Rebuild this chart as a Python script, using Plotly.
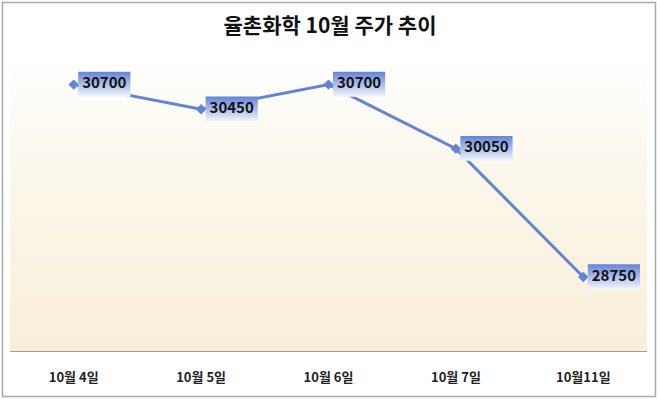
import plotly.graph_objects as go

categories = ["10월 4일", "10월 5일", "10월 6일", "10월 7일", "10월11일"]
prices = [30700, 30450, 30700, 30050, 28750]
title_text = "율촌화학 10월 주가 추이"
y_min, y_max = 28000, 31000

FONT = "Noto Sans CJK KR"
LINE_COLOR = "#6384D6"

xs = list(range(len(categories)))
fig = go.Figure()

# plot-area gradient background
fig.add_trace(go.Scatter(
    x=[-0.5, len(categories) - 0.5, len(categories) - 0.5, -0.5, -0.5],
    y=[y_min, y_min, y_max, y_max, y_min],
    mode="lines", line=dict(width=0), fill="toself",
    fillgradient=dict(type="vertical",
                      colorscale=[[0, "#F8EFD9"], [0.6, "#FCF7EC"], [1, "#FFFFFF"]]),
    hoverinfo="skip", showlegend=False,
))

# price line
fig.add_trace(go.Scatter(
    x=xs, y=prices, mode="lines+markers",
    line=dict(color=LINE_COLOR, width=3),
    marker=dict(symbol="diamond", size=8, color=LINE_COLOR),
    hoverinfo="skip", showlegend=False,
))

# label boxes (gradient) to the right of each point
dx0, dx1 = 0.035, 0.445
dy_top, dy_bot = 130, 122
for xi, v in zip(xs, prices):
    fig.add_trace(go.Scatter(
        x=[xi + dx0, xi + dx1, xi + dx1, xi + dx0, xi + dx0],
        y=[v - dy_bot, v - dy_bot, v + dy_top, v + dy_top, v - dy_bot],
        mode="lines", line=dict(width=0), fill="toself",
        fillgradient=dict(type="vertical",
                          colorscale=[[0, "#F3F5FC"], [1, "#6483D7"]]),
        hoverinfo="skip", showlegend=False,
    ))

# value labels
fig.add_trace(go.Scatter(
    x=[xi + (dx0 + dx1) / 2 for xi in xs], y=prices,
    mode="text", text=[str(v) for v in prices],
    textposition="middle center",
    textfont=dict(family=FONT, size=15, color="#111111", weight="bold"),
    hoverinfo="skip", showlegend=False,
))

fig.update_layout(
    width=660, height=399,
    margin=dict(l=10, r=13, t=55, b=48),
    paper_bgcolor="white", plot_bgcolor="white",
    title=dict(text=title_text, x=0.5, xanchor="center", y=0.935, yanchor="middle",
               font=dict(family=FONT, size=21, color="#111111", weight="bold")),
    xaxis=dict(range=[-0.5, len(categories) - 0.5], tickvals=xs, ticktext=categories,
               showgrid=False, zeroline=False, showline=True, linecolor="#9E9E9E",
               linewidth=1, ticks="", ticklabelstandoff=14,
               tickfont=dict(family=FONT, size=13, color="#222222", weight="bold"),
               fixedrange=True),
    yaxis=dict(range=[y_min, y_max], visible=False, showgrid=False, zeroline=False,
               fixedrange=True),
    showlegend=False,
    shapes=[dict(type="rect", xref="paper", yref="paper",
                 x0=-0.0118, x1=1.0133, y0=-0.1537, y1=1.1774,
                 line=dict(color="#A8A8A8", width=1.5), fillcolor="rgba(0,0,0,0)",
                 layer="above")],
)

fig.write_html("out.html", config={"displayModeBar": False},
               post_script="document.body.style.margin='0';document.body.style.padding='0';")
